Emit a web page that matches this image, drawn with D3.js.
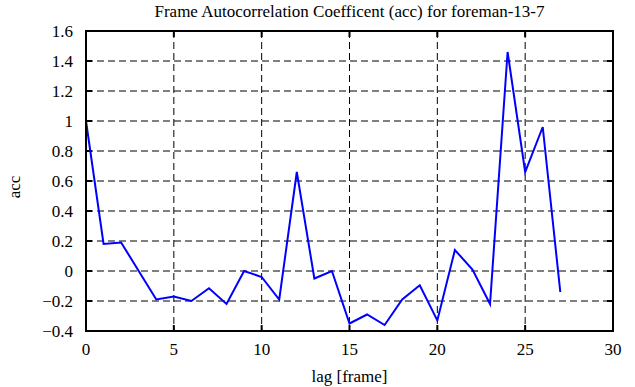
<!DOCTYPE html>
<html>
<head>
<meta charset="utf-8">
<script src="https://cdn.jsdelivr.net/npm/d3@7"></script>
<style>
  body { margin: 0; background: #fff; }
  svg text { font-family: "Liberation Serif", "DejaVu Serif", serif; }
</style>
</head>
<body>
<svg id="chart" width="635" height="387"></svg>
<script>
const lags = [0,1,2,3,4,5,6,7,8,9,10,11,12,13,14,15,16,17,18,19,20,21,22,23,24,25,26,27];
const acc = [1.0,0.18,0.19,0.0,-0.19,-0.17,-0.20,-0.115,-0.22,0.0,-0.04,-0.19,0.66,-0.05,0.0,-0.35,-0.29,-0.36,-0.19,-0.095,-0.33,0.14,0.01,-0.22,1.46,0.66,0.96,-0.14];
const xTicks = [0,5,10,15,20,25,30];
const yTicks = [-0.4,-0.2,0,0.2,0.4,0.6,0.8,1,1.2,1.4,1.6];
const titleText = "Frame Autocorrelation Coefficent (acc) for foreman-13-7";
const xLabel = "lag [frame]";
const yLabel = "acc";

const svg = d3.select("#chart");
const m = {left: 86, right: 613, top: 31, bottom: 331};
const x = d3.scaleLinear().domain([0, 30]).range([m.left, m.right]);
const y = d3.scaleLinear().domain([-0.4, 1.6]).range([m.bottom, m.top]);

// grid
const g = svg.append("g");
g.selectAll("line.gx").data(xTicks.slice(1, -1)).enter().append("line")
  .attr("x1", d => x(d)).attr("x2", d => x(d))
  .attr("y1", m.top).attr("y2", m.bottom)
  .attr("stroke", "#000").attr("stroke-width", 1).attr("stroke-dasharray", "7,4");
g.selectAll("line.gy").data(yTicks.slice(1, -1)).enter().append("line")
  .attr("y1", d => y(d)).attr("y2", d => y(d))
  .attr("x1", m.left).attr("x2", m.right)
  .attr("stroke", "#000").attr("stroke-width", 1).attr("stroke-dasharray", "7,4");

// ticks (inside, all four sides)
const tl = 6;
xTicks.forEach(t => {
  g.append("line").attr("x1", x(t)).attr("x2", x(t)).attr("y1", m.bottom).attr("y2", m.bottom - tl).attr("stroke", "#000").attr("stroke-width", 2);
  g.append("line").attr("x1", x(t)).attr("x2", x(t)).attr("y1", m.top).attr("y2", m.top + tl).attr("stroke", "#000").attr("stroke-width", 2);
});
yTicks.forEach(t => {
  g.append("line").attr("y1", y(t)).attr("y2", y(t)).attr("x1", m.left).attr("x2", m.left + tl).attr("stroke", "#000").attr("stroke-width", 2);
  g.append("line").attr("y1", y(t)).attr("y2", y(t)).attr("x1", m.right).attr("x2", m.right - tl).attr("stroke", "#000").attr("stroke-width", 2);
});

// data line
const line = d3.line().x((d, i) => x(lags[i])).y(d => y(d));
svg.append("path").datum(acc).attr("d", line)
  .attr("fill", "none").attr("stroke", "#0000ff").attr("stroke-width", 2).attr("stroke-linejoin", "miter");

// frame
svg.append("rect").attr("x", m.left).attr("y", m.top).attr("width", m.right - m.left).attr("height", m.bottom - m.top)
  .attr("fill", "none").attr("stroke", "#000").attr("stroke-width", 2);

// tick labels
svg.selectAll("text.xt").data(xTicks).enter().append("text")
  .attr("x", d => x(d)).attr("y", m.bottom + 24)
  .attr("text-anchor", "middle").attr("font-size", 17).text(d => d3.format("")(d));
svg.selectAll("text.yt").data(yTicks).enter().append("text")
  .attr("x", m.left - 13).attr("y", d => y(d) + 6)
  .attr("text-anchor", "end").attr("font-size", 17).text(d => d3.format("")(+d.toFixed(1)));

// labels
svg.append("text").attr("x", (m.left + m.right) / 2).attr("y", 17).attr("text-anchor", "middle").attr("font-size", 17).text(titleText);
svg.append("text").attr("x", (m.left + m.right) / 2).attr("y", 382).attr("text-anchor", "middle").attr("font-size", 17).text(xLabel);
svg.append("text").attr("transform", "translate(20,187) rotate(-90)").attr("text-anchor", "middle").attr("font-size", 17).text(yLabel);
</script>
</body>
</html>
